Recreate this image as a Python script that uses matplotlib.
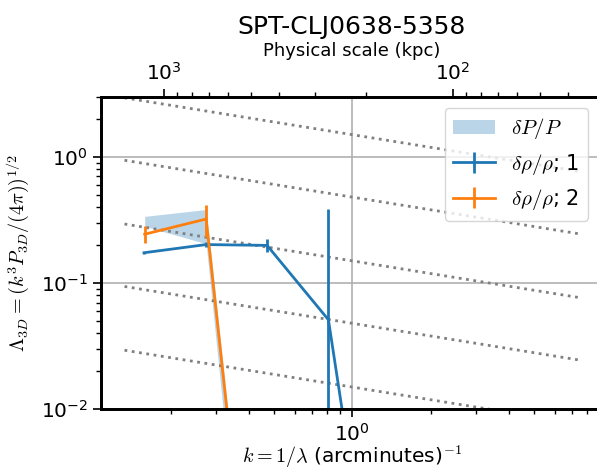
import numpy as np
import matplotlib
matplotlib.use("Agg")
import matplotlib.pyplot as plt

plt.rcParams['mathtext.fontset'] = 'cm'

# delta rho / rho, region 1
k1 = [0.158, 0.274, 0.47, 0.809, 1.1]
lam1 = [0.174, 0.202, 0.199, 0.0512, 8e-4]
err1 = [0.003, 0.008, 0.024, 0.332, 0.0005]

# delta rho / rho, region 2
k2 = [0.159, 0.274, 0.40]
lam2 = [0.244, 0.322, 2.5e-4]
err2 = [0.037, 0.092, 1e-4]

# delta P / P band
kP = [0.159, 0.274, 0.40]
P_lo = [0.282, 0.205, 1e-4]
P_hi = [0.338, 0.383, 3e-4]

# k^(-1/3) reference lines (amplitude at k=1)
ref_k = np.array([0.133, 7.4])
ref_amp = [1.5, 0.48, 0.15, 0.048, 0.015]

fig = plt.figure(figsize=(5.97, 4.72), dpi=100)
ax = fig.add_axes([101 / 597, 62.7 / 472, 502 / 597, 312.6 / 472])

for a in ref_amp:
    ax.plot(ref_k, a * ref_k ** (-1 / 3), ':', color='gray', lw=2)

ax.fill_between(kP, P_lo, P_hi, color='C0', alpha=0.3, lw=0, label=r'$\delta P/P$')
ax.errorbar(k1, lam1, yerr=err1, color='C0', lw=2, elinewidth=2, capsize=0,
            label=r'$\delta\rho/\rho$; 1')
ax.errorbar(k2, lam2, yerr=err2, color='C1', lw=2, elinewidth=2, capsize=0,
            label=r'$\delta\rho/\rho$; 2')

ax.set_xscale('log')
ax.set_yscale('log')
ax.set_xlim(0.108, 9.2)
ax.set_ylim(0.01, 3.0)
ax.grid(True, which='major', color='#b0b0b0', lw=1.2)
ax.set_xlabel(r'$k=1/\lambda$ (arcminutes)$^{-1}$', fontsize=14.5, labelpad=-1)
ax.set_ylabel(r'$\Lambda_{3D} = (k^3 P_{3D}/(4\pi))^{1/2}$', fontsize=14.5, labelpad=6)
ax.tick_params(which='major', labelsize=14.5, length=6, width=1.2)
ax.tick_params(which='minor', length=3.5, width=1)
for s in ax.spines.values():
    s.set_linewidth(2)

ax2 = ax.twiny()
ax2.set_xscale('log')
ax2.set_xlim(1652, 30.3)
ax2.set_xlabel('Physical scale (kpc)', fontsize=13)
ax2.tick_params(which='major', labelsize=14.5, length=6, width=1.2)
ax2.tick_params(which='minor', length=3.5, width=1)
for s in ax2.spines.values():
    s.set_linewidth(2)
ax2.set_title('SPT-CLJ0638-5358', fontsize=18)

ax.legend(loc='upper right', fontsize=15, bbox_to_anchor=(588 / 597, 364 / 472),
          bbox_transform=fig.transFigure, borderaxespad=0)

fig.savefig('out.png', dpi=100)
